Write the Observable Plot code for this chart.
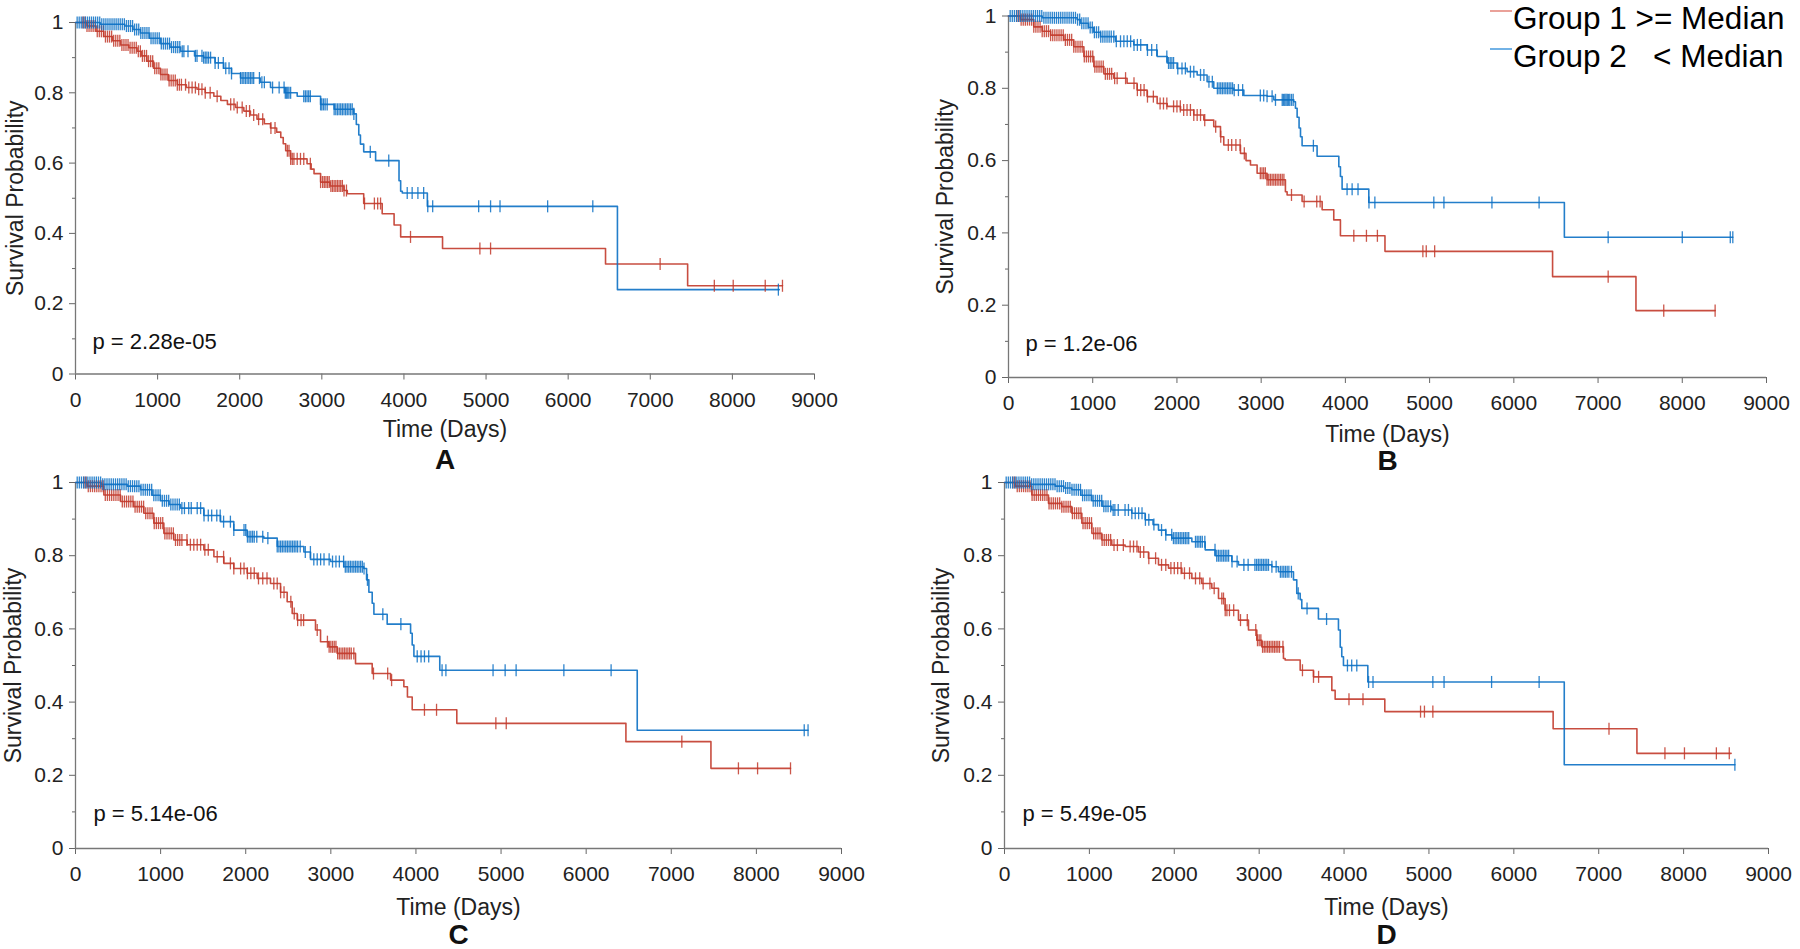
<!DOCTYPE html>
<html>
<head>
<meta charset="utf-8">
<script src="https://cdn.jsdelivr.net/npm/d3@7"></script>
<script src="https://cdn.jsdelivr.net/npm/@observablehq/plot@0.6"></script>
<style>
  html, body { margin: 0; padding: 0; background: #fff; }
  #root { position: relative; width: 1800px; height: 949px; overflow: hidden; background: #fff; font-family: "Liberation Sans", Arial, sans-serif; }
  .panel { position: absolute; }
  .panel svg { overflow: visible; }
</style>
</head>
<body>
<div id="root"></div>
<script>
// ---------------- DATA ----------------
const xTicks = [0, 1000, 2000, 3000, 4000, 5000, 6000, 7000, 8000, 9000];
const yTicks = [0, 0.2, 0.4, 0.6, 0.8, 1];
const yMinorTicks = [0.1, 0.3, 0.5, 0.7, 0.9];
const legendLabels = ["Group 1 >= Median", "Group 2   < Median"];
const panelLetters = ["A", "B", "C", "D"];
const pValues = ["p = 2.28e-05", "p = 1.2e-06", "p = 5.14e-06", "p = 5.49e-05"];

// Kaplan-Meier step points [time (days), survival] — Group 1 (red) and Group 2 (blue)
const A_red = [[0,1],[140,0.99],[250,0.975],[345,0.96],[450,0.948],[550,0.936],[650,0.928],[750,0.918],[800,0.905],[870,0.89],[950,0.87],[1035,0.852],[1130,0.835],[1240,0.823],[1350,0.815],[1480,0.81],[1580,0.8],[1685,0.79],[1770,0.778],[1850,0.767],[1950,0.758],[2050,0.748],[2130,0.737],[2210,0.725],[2300,0.712],[2375,0.7],[2450,0.688],[2500,0.673],[2530,0.655],[2560,0.635],[2620,0.612],[2820,0.598],[2870,0.583],[2905,0.57],[2985,0.546],[3100,0.535],[3270,0.522],[3310,0.513],[3510,0.485],[3735,0.456],[3880,0.424],[3960,0.39],[4470,0.357],[6455,0.313],[7455,0.251],[8610,0.251]];
const A_blue = [[0,1],[300,0.995],[600,0.99],[700,0.98],[790,0.97],[900,0.955],[1035,0.94],[1150,0.93],[1280,0.918],[1450,0.905],[1560,0.9],[1700,0.885],[1805,0.87],[1900,0.855],[2010,0.842],[2250,0.83],[2375,0.815],[2550,0.8],[2700,0.79],[2985,0.767],[3150,0.753],[3390,0.74],[3420,0.71],[3450,0.68],[3470,0.654],[3510,0.632],[3655,0.607],[3940,0.55],[3960,0.52],[3980,0.515],[4285,0.477],[6600,0.24],[8570,0.24]];
const A_red_cens = [90,115,140,165,190,215,240,265,290,315,340,365,390,415,440,465,490,515,540,565,590,615,640,665,690,715,740,765,790,815,840,865,890,915,940,965,990,1015,1040,1065,1090,1115,1140,1165,1190,1215,1240,1265,1290,1340,1380,1420,1460,1500,1540,1580,1640,1725,1890,1930,1970,2030,2080,2120,2170,2230,2280,2380,2430,2580,2600,2620,2640,2660,2700,2740,2780,2860,2985,3010,3030,3050,3070,3090,3110,3130,3150,3170,3190,3210,3230,3250,3270,3300,3520,3640,3680,3715,4080,4925,5055,7120,7780,8010,8400,8610];
const A_blue_cens = [20,45,70,95,120,145,170,195,220,245,270,295,320,345,370,395,420,445,470,495,520,545,570,595,620,645,670,695,720,745,770,795,820,845,870,895,920,945,970,995,1020,1045,1070,1095,1120,1145,1170,1195,1220,1245,1270,1300,1320,1370,1460,1480,1540,1560,1580,1600,1620,1645,1700,1740,1800,1830,1870,1900,2010,2030,2050,2070,2090,2110,2130,2150,2170,2240,2270,2300,2400,2480,2540,2555,2570,2585,2600,2620,2780,2800,2820,2840,2860,2985,3000,3020,3040,3065,3150,3170,3190,3210,3230,3250,3270,3290,3310,3330,3350,3370,3390,3590,3815,4040,4100,4170,4240,4290,4350,4910,5055,5170,5750,6300,8560];

const B_red = [[0,1],[142,0.99],[300,0.97],[400,0.958],[500,0.947],[657,0.934],[775,0.915],[895,0.888],[1013,0.86],[1132,0.84],[1250,0.828],[1408,0.814],[1527,0.795],[1646,0.777],[1765,0.758],[1884,0.75],[2042,0.74],[2200,0.726],[2319,0.712],[2437,0.694],[2517,0.666],[2556,0.643],[2754,0.62],[2820,0.6],[2873,0.588],[2952,0.565],[3070,0.547],[3288,0.514],[3308,0.505],[3486,0.487],[3724,0.464],[3862,0.436],[3941,0.392],[4470,0.349],[6460,0.279],[7450,0.185],[8390,0.185]];
const B_blue = [[0,1],[400,0.995],[815,0.99],[855,0.98],[950,0.968],[1013,0.955],[1092,0.943],[1270,0.93],[1488,0.92],[1646,0.906],[1765,0.888],[1884,0.87],[2002,0.855],[2121,0.846],[2240,0.837],[2358,0.818],[2437,0.8],[2675,0.795],[2794,0.78],[3070,0.778],[3150,0.768],[3387,0.763],[3407,0.745],[3427,0.72],[3450,0.69],[3467,0.666],[3486,0.641],[3664,0.612],[3922,0.583],[3941,0.556],[3961,0.521],[4278,0.484],[6600,0.388],[8600,0.388]];
const B_red_cens = [100,125,150,175,200,225,250,275,300,325,350,375,400,425,450,475,500,525,550,575,600,625,650,675,700,725,750,775,800,825,850,875,900,925,950,975,1000,1025,1050,1075,1100,1125,1150,1175,1200,1225,1260,1290,1390,1490,1530,1570,1610,1650,1720,1800,1840,1880,1960,2000,2040,2080,2120,2160,2200,2240,2280,2330,2460,2520,2610,2650,2700,2750,2800,2990,3010,3030,3050,3070,3090,3110,3130,3150,3170,3190,3210,3230,3250,3270,3360,3510,3660,3700,4100,4250,4380,4920,4960,5060,7120,7780,8390];
const B_blue_cens = [20,45,70,95,120,145,170,195,220,245,270,295,320,345,370,395,420,445,470,495,520,545,570,595,620,645,670,695,720,745,770,795,820,845,870,895,920,945,970,995,1020,1045,1070,1095,1120,1145,1170,1195,1220,1250,1280,1330,1370,1410,1450,1490,1530,1570,1650,1700,1760,1880,1900,1920,1940,1960,2010,2060,2100,2160,2200,2280,2320,2380,2420,2480,2500,2520,2540,2560,2580,2600,2620,2640,2660,2680,2730,2780,2990,3030,3070,3130,3170,3250,3265,3280,3295,3310,3325,3340,3360,3380,3620,4020,4080,4150,4280,4350,5050,5170,5740,6300,7120,8000,8570,8600];

const C_red = [[0,1],[137,0.99],[333,0.966],[529,0.948],[685,0.934],[803,0.916],[920,0.889],[1038,0.861],[1155,0.843],[1312,0.83],[1508,0.816],[1626,0.797],[1743,0.779],[1860,0.765],[2017,0.752],[2135,0.738],[2291,0.724],[2409,0.7],[2487,0.674],[2546,0.642],[2605,0.624],[2820,0.597],[2879,0.565],[2977,0.551],[3075,0.533],[3290,0.505],[3486,0.478],[3702,0.46],[3858,0.442],[3900,0.414],[3956,0.379],[4480,0.342],[6467,0.292],[7466,0.219],[8401,0.219]];
const C_blue = [[0,1],[300,0.995],[607,0.99],[764,0.98],[900,0.965],[999,0.95],[1100,0.94],[1234,0.93],[1508,0.91],[1704,0.893],[1860,0.87],[2017,0.852],[2213,0.848],[2370,0.825],[2683,0.81],[2761,0.79],[2997,0.784],[3153,0.77],[3388,0.765],[3420,0.734],[3447,0.7],[3486,0.67],[3506,0.64],[3662,0.613],[3937,0.588],[3956,0.556],[3976,0.525],[4280,0.487],[6600,0.323],[8607,0.323]];
const C_red_cens = [100,125,150,175,200,225,250,275,300,325,350,375,400,425,450,475,500,525,550,575,600,625,650,675,700,725,750,775,800,825,850,875,900,925,950,975,1000,1025,1050,1075,1100,1125,1150,1175,1200,1225,1250,1310,1350,1390,1430,1470,1520,1560,1665,1740,1820,1860,1940,1980,2020,2060,2100,2150,2200,2250,2330,2370,2410,2450,2530,2570,2610,2650,2680,2840,2960,2980,3000,3020,3040,3060,3080,3100,3120,3140,3160,3180,3200,3220,3240,3270,3501,3668,3714,4100,4242,4939,5061,7124,7789,8014,8401];
const C_blue_cens = [20,45,70,95,120,145,170,195,220,245,270,295,320,345,370,395,420,445,470,495,520,545,570,595,620,645,670,695,720,745,770,795,820,845,870,895,920,945,970,995,1020,1045,1070,1095,1120,1145,1170,1195,1220,1250,1280,1330,1360,1430,1470,1510,1560,1600,1660,1700,1740,1820,1860,1980,2000,2020,2040,2060,2080,2100,2130,2200,2260,2370,2390,2410,2430,2450,2470,2490,2510,2530,2550,2570,2590,2610,2640,2700,2760,2800,2840,2880,2920,2980,3020,3060,3100,3150,3170,3190,3210,3230,3250,3270,3290,3310,3330,3350,3370,3390,3430,3611,3823,4015,4060,4100,4150,4307,4352,4906,5048,5177,5738,6293,8562,8607];

const D_red = [[0,1],[126,0.99],[322,0.966],[518,0.943],[675,0.934],[793,0.916],[911,0.889],[1029,0.861],[1146,0.843],[1264,0.829],[1421,0.825],[1578,0.81],[1696,0.793],[1814,0.775],[1932,0.766],[2089,0.752],[2207,0.738],[2324,0.724],[2442,0.711],[2521,0.683],[2599,0.651],[2756,0.624],[2874,0.597],[2972,0.569],[3031,0.551],[3286,0.519],[3306,0.515],[3483,0.487],[3640,0.469],[3856,0.432],[3895,0.408],[4480,0.374],[6463,0.327],[7450,0.26],[8560,0.26]];
const D_blue = [[0,1],[300,0.995],[597,0.99],[700,0.985],[793,0.98],[900,0.965],[1029,0.95],[1150,0.935],[1264,0.925],[1500,0.916],[1657,0.898],[1750,0.885],[1814,0.87],[1900,0.857],[1971,0.848],[2207,0.838],[2364,0.816],[2481,0.8],[2678,0.784],[2756,0.775],[3149,0.77],[3227,0.756],[3404,0.734],[3443,0.697],[3483,0.68],[3502,0.656],[3698,0.627],[3934,0.597],[3955,0.55],[3973,0.524],[3993,0.5],[4280,0.455],[6594,0.229],[8604,0.229]];
const D_red_cens = [100,125,150,175,200,225,250,275,300,325,350,375,400,425,450,475,500,525,550,575,600,625,650,675,700,725,750,775,800,825,850,875,900,925,950,975,1000,1025,1050,1075,1100,1125,1150,1175,1200,1225,1250,1290,1330,1400,1480,1520,1560,1600,1640,1700,1780,1850,1900,1960,2000,2040,2080,2120,2180,2250,2300,2340,2420,2470,2560,2580,2600,2620,2650,2700,2780,2860,2960,2980,3000,3020,3040,3060,3080,3100,3120,3140,3160,3180,3200,3220,3240,3280,3510,3640,3700,4058,4223,4901,4947,5046,7121,7780,8010,8386,8538];
const D_blue_cens = [20,45,70,95,120,145,170,195,220,245,270,295,320,345,370,395,420,445,470,495,520,545,570,595,620,645,670,695,720,745,770,795,820,845,870,895,920,945,970,995,1020,1045,1070,1095,1120,1145,1170,1195,1220,1250,1280,1300,1340,1420,1460,1500,1540,1580,1620,1660,1700,1760,1850,1900,1970,1990,2010,2030,2050,2070,2090,2110,2130,2150,2170,2250,2270,2290,2310,2330,2360,2480,2500,2520,2540,2560,2580,2600,2620,2640,2680,2740,2820,2870,2950,2970,2990,3010,3030,3050,3070,3090,3110,3150,3200,3250,3270,3290,3310,3330,3350,3380,3460,3564,3794,4040,4090,4150,4289,4341,5046,5178,5738,6298,8604];

// ---------------- STYLE / LAYOUT ----------------
const RED = "#c23a2b";
const BLUE = "#0b70c4";
const LEG_RED = "#e58a80";
const LEG_BLUE = "#4f9fe0";
const FONT = "'Liberation Sans', Arial, Helvetica, sans-serif";

const layout = [
  {left: 0,   top: 0,   width: 850, height: 470, mL: 75, mR: 36, mT: 22,   mB: 96.5, yLab: -60, xLab: 56, letter: 86, pdx: 17, pdy: -32},
  {left: 920, top: 0,   width: 880, height: 470, mL: 88, mR: 34, mT: 15.5, mB: 93,   yLab: -63, xLab: 57, letter: 84, pdx: 17, pdy: -34},
  {left: 0,   top: 470, width: 880, height: 479, mL: 75, mR: 39, mT: 12,   mB: 101,  yLab: -62, xLab: 59, letter: 87, pdx: 18, pdy: -35},
  {left: 920, top: 470, width: 880, height: 479, mL: 84, mR: 32, mT: 12,   mB: 101,  yLab: -63, xLab: 59, letter: 87, pdx: 18, pdy: -35}
];
const series = [
  {red: A_red, blue: A_blue, redC: A_red_cens, blueC: A_blue_cens},
  {red: B_red, blue: B_blue, redC: B_red_cens, blueC: B_blue_cens},
  {red: C_red, blue: C_blue, redC: C_red_cens, blueC: C_blue_cens},
  {red: D_red, blue: D_blue, redC: D_red_cens, blueC: D_blue_cens}
];

// survival at time t from step data
function survAt(steps, t) {
  let s = steps[0][1];
  for (const [tt, ss] of steps) if (tt <= t) s = ss;
  return s;
}
// vertical bar symbol for censoring marks
const vbar = {
  draw(ctx, size) {
    const h = Math.sqrt(size);
    ctx.moveTo(0, -h);
    ctx.lineTo(0, h);
  }
};

const root = document.getElementById("root");

series.forEach((s, i) => {
  const L = layout[i];
  const redC = s.redC.map(t => ({t, s: survAt(s.red, t)}));
  const blueC = s.blueC.map(t => ({t, s: survAt(s.blue, t)}));
  const chart = Plot.plot({
    width: L.width,
    height: L.height,
    marginLeft: L.mL,
    marginRight: L.mR,
    marginTop: L.mT,
    marginBottom: L.mB,
    style: {fontFamily: FONT, fontSize: "21px", color: "#222", background: "transparent", overflow: "visible"},
    x: {domain: [0, 9000]},
    y: {domain: [0, 1]},
    marks: [
      Plot.axisX({ticks: xTicks, tickSize: 6, tickPadding: 12, tickFormat: d => String(d), label: null, stroke: "#666", fill: "#222"}),
      Plot.axisY({ticks: yTicks, tickSize: 6, tickPadding: 6, tickFormat: d => String(d), label: null, stroke: "#666", fill: "#222"}),
      Plot.axisY({ticks: yMinorTicks, tickSize: 3, tickFormat: () => "", label: null, stroke: "#666"}),
      Plot.ruleX([0], {stroke: "#777", strokeWidth: 1.3}),
      Plot.ruleY([0], {stroke: "#777", strokeWidth: 1.3}),
      Plot.line(s.red, {x: d => d[0], y: d => d[1], curve: "step-after", stroke: RED, strokeWidth: 1.6, strokeOpacity: 0.9}),
      Plot.line(s.blue, {x: d => d[0], y: d => d[1], curve: "step-after", stroke: BLUE, strokeWidth: 1.6, strokeOpacity: 0.9}),
      Plot.dot(redC, {x: "t", y: "s", symbol: vbar, r: 3.4, stroke: RED, strokeWidth: 1.3, strokeOpacity: 0.85, fill: "none"}),
      Plot.dot(blueC, {x: "t", y: "s", symbol: vbar, r: 3.4, stroke: BLUE, strokeWidth: 1.3, strokeOpacity: 0.85, fill: "none"}),
      Plot.text([pValues[i]], {text: d => d, frameAnchor: "bottom-left", textAnchor: "start", lineAnchor: "middle", dx: L.pdx, dy: L.pdy, fontSize: 22, fill: "#111"}),
      Plot.text(["Survival Probability"], {text: d => d, frameAnchor: "left", textAnchor: "middle", lineAnchor: "middle", rotate: -90, dx: L.yLab, fontSize: 23, fill: "#222"}),
      Plot.text(["Time (Days)"], {text: d => d, frameAnchor: "bottom", textAnchor: "middle", lineAnchor: "middle", dy: L.xLab, fontSize: 23, fill: "#222"}),
      Plot.text([panelLetters[i]], {text: d => d, frameAnchor: "bottom", textAnchor: "middle", lineAnchor: "middle", dy: L.letter, fontSize: 28, fontWeight: "bold", fill: "#111"})
    ]
  });
  const wrap = document.createElement("div");
  wrap.className = "panel";
  wrap.style.left = L.left + "px";
  wrap.style.top = L.top + "px";
  wrap.appendChild(chart);
  root.appendChild(wrap);
});

// ---------------- LEGEND ----------------
const legendColors = [LEG_RED, LEG_BLUE];
const leg = d3.select(root).append("svg")
  .attr("width", 330).attr("height", 80)
  .style("position", "absolute").style("left", "1470px").style("top", "0px");
const rows = leg.selectAll("g").data(legendLabels).join("g")
  .attr("transform", (d, k) => `translate(0, ${k * 38})`);
rows.append("line").attr("x1", 20).attr("x2", 42).attr("y1", 11).attr("y2", 11)
  .attr("stroke", (d, k) => legendColors[k]).attr("stroke-width", 1.6);
rows.append("text").attr("x", 43).attr("y", 29)
  .attr("font-family", FONT).attr("font-size", 31.5).attr("fill", "#000")
  .style("white-space", "pre").attr("xml:space", "preserve")
  .text(d => d);
</script>
</body>
</html>
